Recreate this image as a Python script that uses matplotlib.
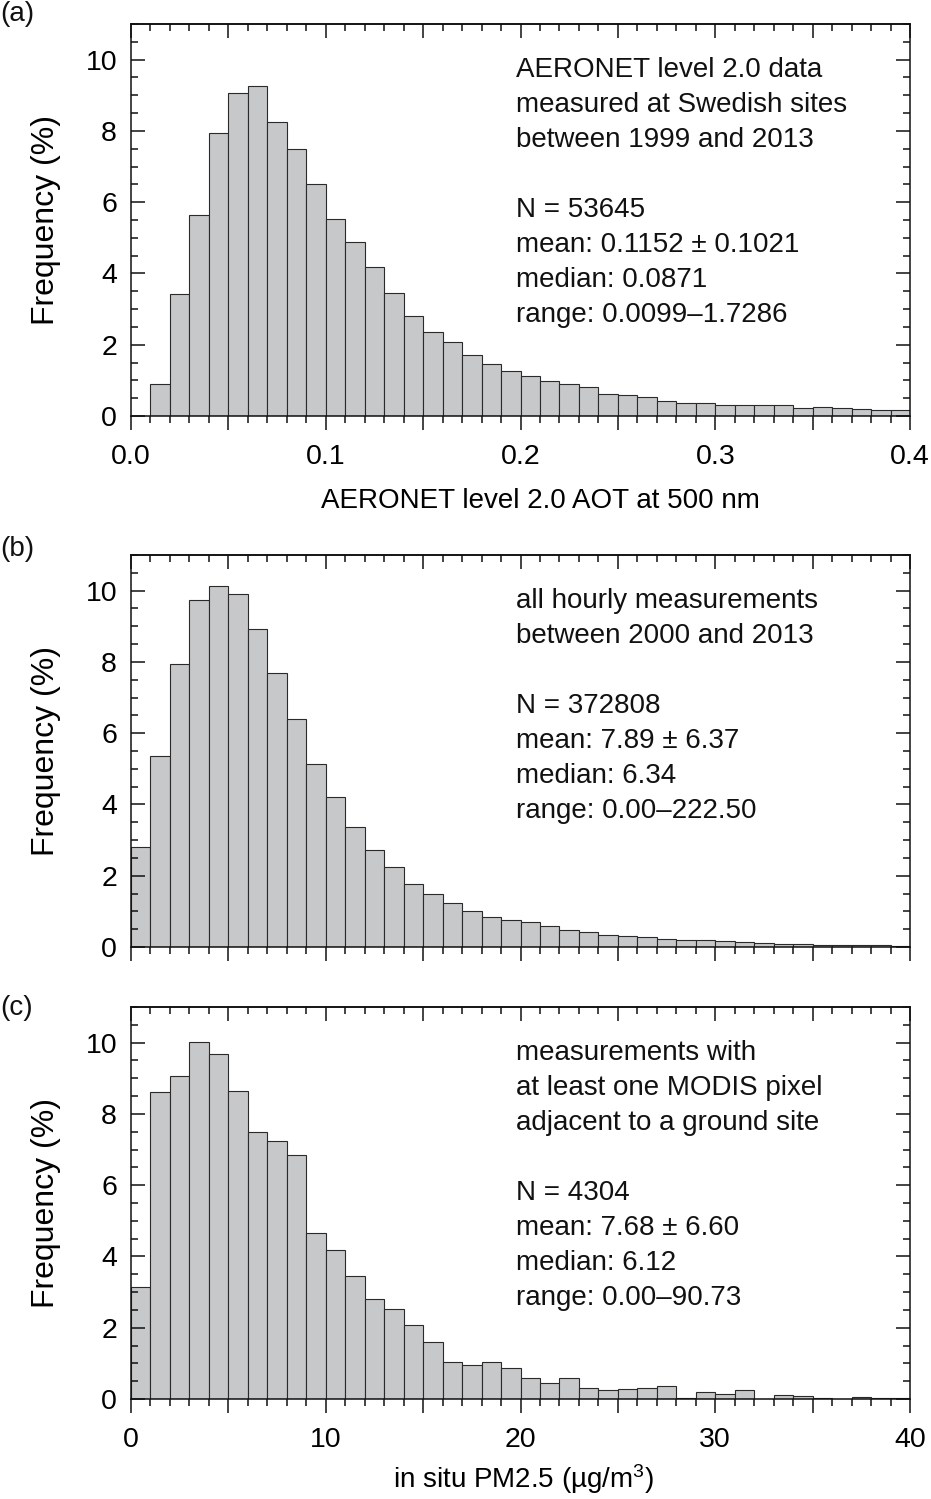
import matplotlib
matplotlib.use("Agg")
import matplotlib.pyplot as plt
from matplotlib.ticker import MultipleLocator, FuncFormatter
import numpy as np

plt.rcParams['font.family'] = ['Liberation Sans', 'DejaVu Sans']
plt.rcParams['mathtext.default'] = 'regular'

# ---------------- data ----------------
aot_bin_left = [round(0.01 * i, 2) for i in range(1, 40)]
aot_freq = [0.89, 3.42, 5.64, 7.94, 9.05, 9.25, 8.25, 7.50, 6.52, 5.54,
            4.87, 4.19, 3.44, 2.80, 2.37, 2.09, 1.71, 1.45, 1.26, 1.12,
            0.97, 0.91, 0.80, 0.63, 0.60, 0.54, 0.43, 0.37, 0.37, 0.32,
            0.30, 0.30, 0.30, 0.23, 0.26, 0.22, 0.20, 0.16, 0.16]

pm_bin_left = list(range(0, 40))
pm_all_freq = [2.82, 5.36, 7.94, 9.74, 10.12, 9.91, 8.91, 7.69, 6.39, 5.13,
               4.21, 3.38, 2.73, 2.25, 1.78, 1.50, 1.23, 1.00, 0.83, 0.77,
               0.70, 0.59, 0.49, 0.42, 0.35, 0.31, 0.27, 0.23, 0.20, 0.20,
               0.16, 0.14, 0.11, 0.09, 0.09, 0.07, 0.07, 0.05, 0.05, 0.04]
pm_modis_freq = [3.13, 8.62, 9.07, 10.02, 9.67, 8.65, 7.49, 7.23, 6.84, 4.67,
                 4.18, 3.45, 2.81, 2.52, 2.07, 1.59, 1.05, 0.96, 1.05, 0.87,
                 0.58, 0.46, 0.58, 0.30, 0.24, 0.29, 0.30, 0.36, 0.03, 0.19,
                 0.14, 0.24, 0.00, 0.10, 0.08, 0.03, 0.00, 0.05, 0.03, 0.04]

panel_labels = ['(a)', '(b)', '(c)']
text_a = ['AERONET level 2.0 data', 'measured at Swedish sites',
          'between 1999 and 2013', '', 'N = 53645',
          'mean: 0.1152 ± 0.1021', 'median: 0.0871', 'range: 0.0099–1.7286']
text_b = ['all hourly measurements', 'between 2000 and 2013', '',
          'N = 372808', 'mean: 7.89 ± 6.37', 'median: 6.34',
          'range: 0.00–222.50']
text_c = ['measurements with', 'at least one MODIS pixel',
          'adjacent to a ground site', '', 'N = 4304',
          'mean: 7.68 ± 6.60', 'median: 6.12', 'range: 0.00–90.73']
xlabel_a = 'AERONET level 2.0 AOT at 500 nm'
xlabel_c = 'in situ PM2.5 (µg/m$^{3}$)'
ylabel = 'Frequency (%)'

# ---------------- style ----------------
W, H = 931, 1499
FS_TEXT = 20
FS_TICK = 20.5
FS_XLAB = 20
FS_YLAB = 23
BAR_COLOR = '#c7c8ca'
EDGE_COLOR = '#2a2a2a'
INK = '#111111'

fig = plt.figure(figsize=(W / 100, H / 100), dpi=100)

ax_left = 131 / W
ax_w = 779 / W
ax_h = 392 / H
bottoms_px = [416, 947, 1399]
label_y_px = [14, 549, 1008]


def style_axes(ax, xmax, major, minor, labelstep, fmt, show_labels):
    ax.set_xlim(0, xmax)
    ax.set_ylim(0, 11)
    for s in ax.spines.values():
        s.set_linewidth(1.1)
        s.set_color(INK)
    ax.xaxis.set_major_locator(MultipleLocator(major))
    ax.xaxis.set_minor_locator(MultipleLocator(minor))
    ax.yaxis.set_major_locator(MultipleLocator(2))
    ax.yaxis.set_minor_locator(MultipleLocator(0.5))

    def f(x, pos):
        if not show_labels:
            return ''
        k = x / labelstep
        if abs(k - round(k)) < 1e-6:
            return fmt.format(x)
        return ''
    ax.xaxis.set_major_formatter(FuncFormatter(f))
    ax.tick_params(axis='x', which='both', direction='out', top=False,
                   bottom=True, labelsize=FS_TICK, pad=10, color=INK)
    ax.tick_params(axis='x', which='major', length=10, width=1.1)
    ax.tick_params(axis='x', which='minor', length=5, width=1.1)
    ax.tick_params(axis='y', which='both', direction='in', left=True,
                   right=True, labelsize=FS_TICK, pad=10, color=INK)
    ax.tick_params(axis='y', which='major', length=10, width=1.1)
    ax.tick_params(axis='y', which='minor', length=5, width=1.1)
    sec = ax.secondary_xaxis('top')
    sec.xaxis.set_major_locator(MultipleLocator(major))
    sec.xaxis.set_minor_locator(MultipleLocator(minor))
    sec.tick_params(axis='x', which='both', direction='in', labeltop=False,
                    color=INK)
    sec.tick_params(axis='x', which='major', length=10, width=1.1)
    sec.tick_params(axis='x', which='minor', length=5, width=1.1)
    sec.spines['top'].set_linewidth(1.1)
    ax.set_ylabel(ylabel, fontsize=FS_YLAB)
    ax.yaxis.set_label_coords((61 - 131) / 779, 0.5)


def add_text(ax, lines, bottom_px, first_px):
    step = 35
    for i, line in enumerate(lines):
        if not line:
            continue
        y = (bottom_px - (first_px + i * step)) / 392
        ax.text((516 - 131) / 779, y, line, transform=ax.transAxes,
                ha='left', va='center', fontsize=FS_TEXT, color=INK)


datasets = [
    (aot_bin_left, aot_freq, 0.01, 0.4, 0.05, 0.01, 0.1, '{:.1f}', True, text_a, 70),
    (pm_bin_left, pm_all_freq, 1.0, 40, 5, 1, 10, '{:.0f}', False, text_b, 601),
    (pm_bin_left, pm_modis_freq, 1.0, 40, 5, 1, 10, '{:.0f}', True, text_c, 1053),
]

for i, (edges, vals, w, xmax, major, minor, lstep, fmt, showlab, txt, first) in enumerate(datasets):
    bpx = bottoms_px[i]
    ax = fig.add_axes([ax_left, (H - bpx) / H, ax_w, ax_h])
    ax.bar(edges, vals, width=w, align='edge', color=BAR_COLOR,
           edgecolor=EDGE_COLOR, linewidth=0.8)
    style_axes(ax, xmax, major, minor, lstep, fmt, showlab)
    add_text(ax, txt, bpx, first)
    fig.text(0.0, 1 - label_y_px[i] / H, panel_labels[i], ha='left',
             va='center', fontsize=FS_TEXT, color=INK)
    if i == 0:
        ax.set_xlabel(xlabel_a, fontsize=FS_XLAB)
        ax.xaxis.set_label_coords((540 - 131) / 779, (416 - 488) / 392)
    elif i == 2:
        ax.set_xlabel(xlabel_c, fontsize=FS_XLAB)
        ax.xaxis.set_label_coords((524 - 131) / 779, (1399 - 1462) / 392)

fig.savefig('out.png', dpi=100)
